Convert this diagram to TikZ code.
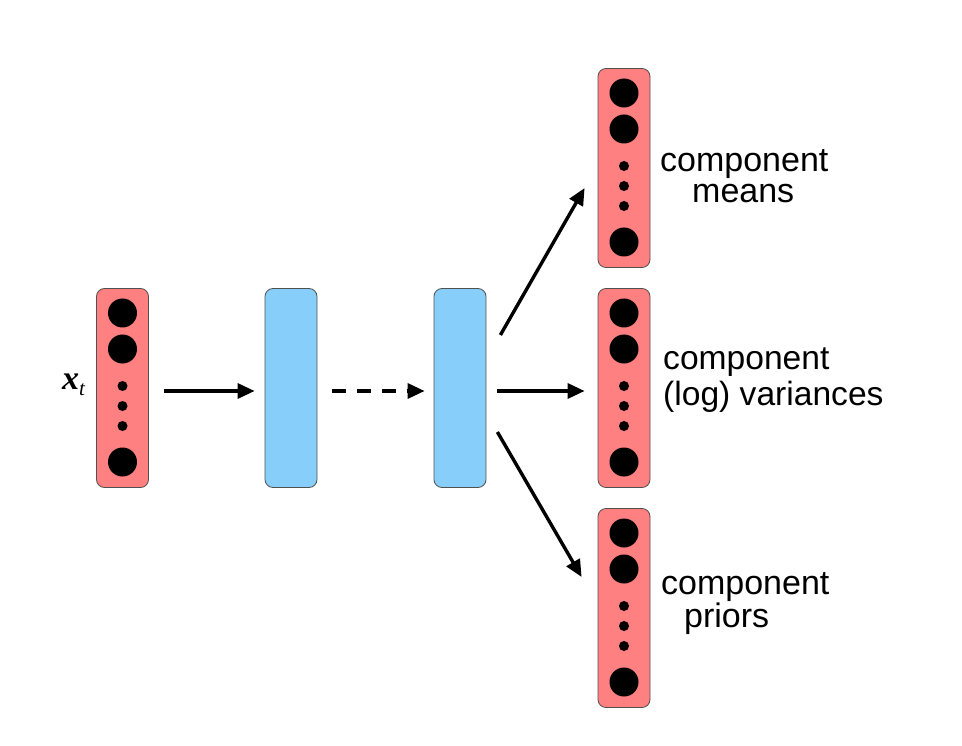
\documentclass[tikz,border=0pt]{standalone}
\usepackage{fontspec}
\newfontfamily\labelfont{Liberation Sans}
\newfontfamily\serifmath{Liberation Serif}
\usetikzlibrary{arrows.meta,calc}
\definecolor{layerred}{RGB}{255,128,128}
\definecolor{layerblue}{RGB}{135,206,250}
\definecolor{edgegray}{RGB}{80,80,80}
\tikzset{
  redlayer/.style={draw=edgegray, line width=0.8pt, fill=layerred, rounded corners=8pt, minimum width=52pt, minimum height=199pt, inner sep=0pt},
  bluelayer/.style={draw=edgegray, line width=0.8pt, fill=layerblue, rounded corners=8pt, minimum width=52pt, minimum height=199pt, inner sep=0pt},
  bigunit/.style={circle, fill=black, minimum size=29pt, inner sep=0pt},
  dotunit/.style={circle, fill=black, minimum size=10pt, inner sep=0pt},
  conn/.style={line width=3.4pt, -{Triangle[length=17pt,width=15pt]}},
  dashconn/.style={conn, dash pattern=on 14pt off 11pt},
  lbl/.style={font=\labelfont\fontsize{34}{30}\selectfont, align=left, anchor=west, inner sep=0pt},
}
\newcommand{\mkunits}[3]{%
  \node[bigunit] (#1u1) at (#2,#3-75) {};
  \node[bigunit] (#1u2) at (#2,#3-39) {};
  \node[dotunit] (#1d1) at (#2,#3-2) {};
  \node[dotunit] (#1d2) at (#2,#3+18) {};
  \node[dotunit] (#1d3) at (#2,#3+38) {};
  \node[bigunit] (#1u3) at (#2,#3+74) {};
}
\begin{document}
\begin{tikzpicture}[x=1pt,y=-1pt]
\useasboundingbox (0,0) rectangle (962,746);
% layers
\node[redlayer] (in) at (122.5,388) {};
\mkunits{in}{122.5}{388}
\node[bluelayer] (h1) at (291,388) {};
\node[bluelayer] (h2) at (460,388) {};
\node[redlayer] (o1) at (624,168) {};
\mkunits{oa}{624}{168}
\node[redlayer] (o2) at (624,388) {};
\mkunits{ob}{624}{388}
\node[redlayer] (o3) at (624,608) {};
\mkunits{oc}{624}{608}
% labels
\node[anchor=base west, inner sep=0pt] (xt) at (62,389)
  {\serifmath\fontsize{34}{34}\selectfont\bfseries\itshape x\raisebox{-6pt}{\mdseries\fontsize{21}{21}\selectfont t}};
\node[lbl, font=\labelfont\fontsize{34}{31}\selectfont] (l1) at (660,176.5) {component\\\hspace*{32pt}means};
\node[lbl, font=\labelfont\fontsize{33.6}{36}\selectfont] (l2) at (663,380) {component\\(log) variances};
\node[lbl] (l3) at (661,603.5) {component\\\hspace*{23pt}priors};
% connectors
\coordinate (s1) at ($(h2.east)+(14,-53)$);
\coordinate (e1) at ($(o1.west)+(-13,20)$);
\coordinate (s3) at ($(h2.east)+(11,44)$);
\coordinate (e3) at ($(o3.west)+(-16,-31)$);
\draw[conn] ([xshift=15pt,yshift=-3pt]in.east) -- ([xshift=-10pt,yshift=-3pt]h1.west);
\draw[dashconn] ([xshift=15pt,yshift=-3pt]h1.east) -- ([xshift=-9pt,yshift=-3pt]h2.west);
\draw[conn] ([xshift=11pt,yshift=-3pt]h2.east) -- ([xshift=-13pt,yshift=-3pt]o2.west);
\draw[conn] (s1) -- (e1);
\draw[conn] (s3) -- (e3);
\end{tikzpicture}
\end{document}
